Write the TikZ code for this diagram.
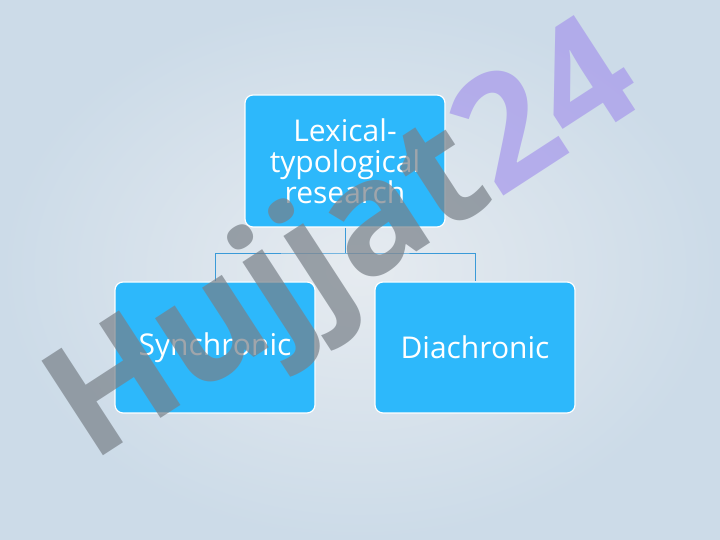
\documentclass[tikz,border=0pt]{standalone}
\usepackage{fontspec}
\setmainfont{Open Sans}
\begin{document}
\begin{tikzpicture}[x=1pt,y=1pt,
  box/.style={draw=white,line width=1.2pt,fill=boxblue,rounded corners=8pt,text=white,align=center,font=\fontsize{30}{31}\selectfont},
  conn/.style={draw=lineblue,line width=0.9pt}]
\definecolor{boxblue}{HTML}{2DB8FB}
\definecolor{lineblue}{HTML}{3A9AD8}
\definecolor{bgout}{HTML}{CCDBE8}
\definecolor{bgin}{HTML}{E6EBF0}
\definecolor{wmgray}{HTML}{56606A}
\definecolor{wmviolet}{HTML}{A99CEB}
\useasboundingbox (0,0) rectangle (720,540);
\shade[inner color=bgin,outer color=bgout] (0,0) rectangle (720,540);
\node[box,minimum width=200pt,minimum height=132pt] (top) at (345,379) {Lexical-\\typological\\research};
\node[box,minimum width=200pt,minimum height=131pt] (syn) at (215,192.5) {Synchronic};
\node[box,minimum width=200pt,minimum height=131pt] (dia) at (475,192.5) {Diachronic};
\coordinate (mid) at (345,287);
\draw[conn] (top.south) -- (mid);
\draw[conn] (syn.north) |- (mid) -| (dia.north);
\node[rotate=33,font=\bfseries\fontsize{158}{158}\selectfont,inner sep=0pt] (wm) at (348,292)
  {\textcolor{wmgray!80}{\pgfsetfillopacity{0.7}Hujjat}\textcolor{wmviolet}{\pgfsetfillopacity{0.75}24}};
\end{tikzpicture}
\end{document}
